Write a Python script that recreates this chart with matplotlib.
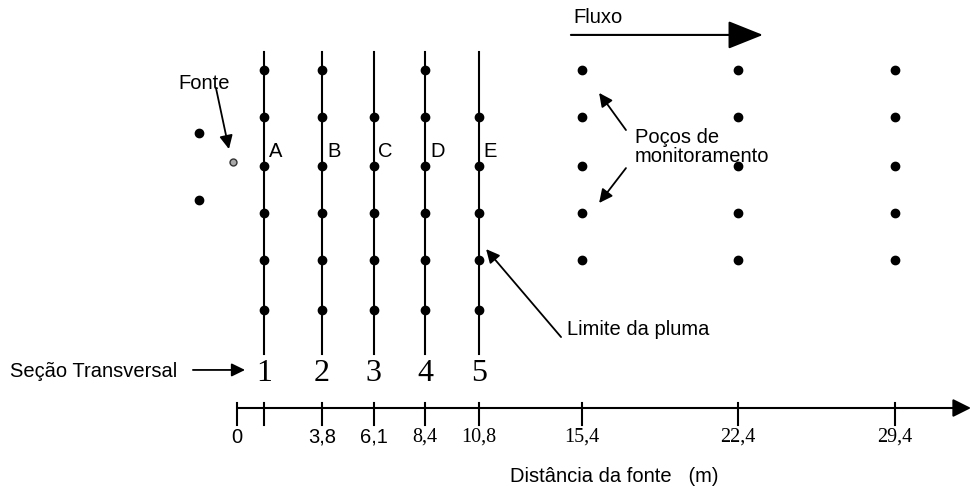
import matplotlib
matplotlib.use("Agg")
import matplotlib.pyplot as plt

# distances along the flow direction (m)
section_x = [1.2, 3.8, 6.1, 8.4, 10.8]
section_names = ["A", "B", "C", "D", "E"]
section_nums = ["1", "2", "3", "4", "5"]
# transverse rows of wells (m, arbitrary origin)
rows = [15.1, 13.0, 10.8, 8.7, 6.6, 4.4]
# which rows of each section carry a well
section_rows = [[0, 1, 2, 3, 4, 5], [0, 1, 2, 3, 4, 5], [1, 2, 3, 4, 5],
                [0, 1, 2, 3, 4, 5], [1, 2, 3, 4, 5]]
monitor_x = [15.4, 22.4, 29.4]
monitor_rows = [0, 1, 2, 3, 4]
upstream_x = [-1.7, -1.7]
upstream_y = [12.3, 9.3]
source_x, source_y = -0.18, 11.0

tick_x = [0, 1.2, 3.8, 6.1, 8.4, 10.8, 15.4, 22.4, 29.4]
tick_lab = ["0", "", "3,8", "6,1", "8,4", "10,8", "15,4", "22,4", "29,4"]
tick_serif = [False, False, False, False, True, True, True, True, True]

SANS = "Liberation Sans"
SERIF = "Liberation Serif"
FS = 14.5
S = 22.38  # px per metre

fig = plt.figure(figsize=(9.71, 4.93), dpi=100)
ax = fig.add_axes([0, 0, 1, 1])
ax.set_xlim(-237 / S, (971 - 237) / S)
ax.set_ylim(-(493 - 408) / S, 408 / S)
ax.set_axis_off()

dot = dict(marker="o", color="black", markersize=6, linestyle="none")

# upstream wells and source
ax.plot(upstream_x, upstream_y, **dot)
ax.plot([source_x], [source_y], marker="o", markersize=5, color="#a8a8a8",
        markeredgecolor="#333333", markeredgewidth=1.0, linestyle="none")
ax.text(-2.64, 14.48, "Fonte", family=SANS, fontsize=FS, ha="left", va="center")

small = dict(arrowstyle="-|>,head_length=0.45,head_width=0.22", color="black",
             lw=1.3, shrinkA=0, shrinkB=0, mutation_scale=18)
ax.annotate("", xy=(-0.36, 11.57), xytext=(-0.94, 14.30), arrowprops=small)

# plume sections
for x, name, num, rr in zip(section_x, section_names, section_nums, section_rows):
    ax.plot([x, x], [2.4, 15.9], color="black", lw=1.5)
    ax.plot([x] * len(rr), [rows[i] for i in rr], **dot)
    ax.text(x + 0.22, 11.44, name, family=SANS, fontsize=FS, ha="left", va="center")
    ax.text(x, 1.56, num, family=SERIF, fontsize=23, ha="center", va="center")

ax.text(-10.14, 1.65, "Seção Transversal", family=SANS, fontsize=FS,
        ha="left", va="center")
ax.annotate("", xy=(0.36, 1.70), xytext=(-1.97, 1.70), arrowprops=small)

# monitoring wells
for x in monitor_x:
    ax.plot([x] * len(monitor_rows), [rows[i] for i in monitor_rows], **dot)
ax.text(17.78, 11.66, "Poços de\nmonitoramento", family=SANS, fontsize=FS,
        ha="left", va="center", linespacing=1.05)
ax.annotate("", xy=(16.18, 14.08), xytext=(17.38, 12.42), arrowprops=small)
ax.annotate("", xy=(16.18, 9.16), xytext=(17.38, 10.72), arrowprops=small)

ax.text(14.75, 3.49, "Limite da pluma", family=SANS, fontsize=FS,
        ha="left", va="center")
ax.annotate("", xy=(11.13, 7.10), xytext=(14.48, 3.17), arrowprops=small)

# flow arrow
ax.text(15.01, 17.47, "Fluxo", family=SANS, fontsize=FS, ha="left", va="center")
big = dict(arrowstyle="-|>,head_length=0.55,head_width=0.22", color="black",
           lw=1.5, shrinkA=0, shrinkB=0, mutation_scale=40)
ax.annotate("", xy=(23.5, 16.67), xytext=(14.92, 16.67), arrowprops=big)

# distance axis
axis_arrow = dict(arrowstyle="-|>,head_length=0.5,head_width=0.25", color="black",
                  lw=1.5, shrinkA=0, shrinkB=0, mutation_scale=22)
ax.annotate("", xy=((971 - 237) / S, 0), xytext=(0, 0), arrowprops=axis_arrow)
for x, lab, serif in zip(tick_x, tick_lab, tick_serif):
    ax.plot([x, x], [0.22, -0.76], color="black", lw=1.5)
    ax.text(x, -1.30, lab, family=SERIF if serif else SANS, fontsize=FS,
            ha="center", va="center")
ax.text(16.85, -3.08, "Distância da fonte   (m)", family=SANS, fontsize=FS,
        ha="center", va="center")

fig.savefig("out.png", dpi=100)
